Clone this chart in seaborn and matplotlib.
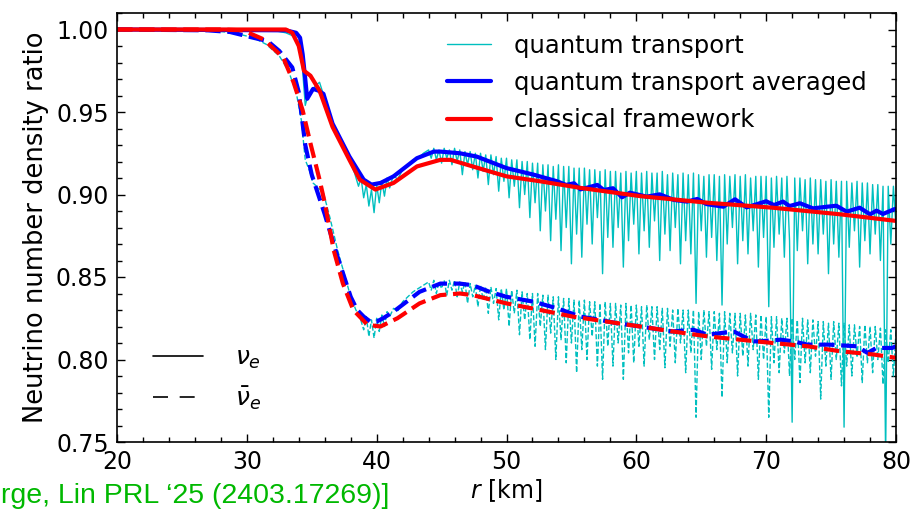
import numpy as np
import pandas as pd
import matplotlib
matplotlib.use("Agg")
import matplotlib.pyplot as plt
from matplotlib.lines import Line2D
from matplotlib.ticker import MultipleLocator, FormatStrFormatter
import seaborn as sns

# ---------------- data ----------------
# classical framework, nu_e (solid red)
red_nue_x = [20, 33.0, 33.5, 34.0, 34.4, 34.9, 35.6, 36.6, 37.9, 38.7, 39.9, 41.3, 43.1,
             44.9, 45.7, 47.4, 50.0, 52.6, 55.7, 60.3, 65.5, 70.5, 75.7, 80]
red_nue_y = [1.0, 1.0, 0.998, 0.990, 0.975, 0.972, 0.963, 0.941, 0.921, 0.909, 0.903, 0.907, 0.917,
             0.921, 0.921, 0.917, 0.911, 0.908, 0.904, 0.899, 0.895, 0.892, 0.888, 0.884]

# quantum transport averaged, nu_e (solid blue)
blue_nue_x = [20, 33.0, 33.8, 34.1, 34.3, 34.5, 34.65, 35.1, 35.5, 35.9, 36.6, 37.9, 39.0, 39.6,
              40.3, 41.3, 43.1, 44.4, 44.9, 46.4, 47.7, 50.0, 52.1, 53.9,
              54.6, 55.2, 55.7, 57.0, 57.5, 58.2, 58.9, 59.5, 60.8, 61.8, 62.9, 63.9, 64.7, 65.4,
              66.7, 67.6, 68.5, 70.0, 70.6, 71.3, 71.8, 72.6, 73.6, 74.7, 75.4, 76.2, 77.2, 78.0,
              78.5, 79.0, 79.9]
blue_nue_y = [1.0, 0.9995, 0.998, 0.995, 0.985, 0.970, 0.958, 0.964, 0.963, 0.961, 0.943, 0.923, 0.909, 0.906,
              0.907, 0.911, 0.922, 0.926, 0.926, 0.925, 0.923, 0.916, 0.912, 0.908,
              0.9058, 0.9068, 0.9031, 0.9058, 0.9027, 0.9038, 0.8983, 0.9011, 0.8987, 0.9001, 0.8967, 0.8957, 0.8973, 0.8942,
              0.8926, 0.8971, 0.8922, 0.8959, 0.8936, 0.8957, 0.8930, 0.8947, 0.8916, 0.8926, 0.8932, 0.8896, 0.8920, 0.8880,
              0.8902, 0.8882, 0.8912]

# classical framework, anti nu_e (dashed red)
red_anue_x = [20, 28, 29.7, 31.3, 32.8, 33.6, 34.3, 34.9, 35.6, 36.0, 36.7, 37.4, 38.2, 39.3, 40.3,
              41.6, 43.3, 44.9, 46.4, 47.4, 50.0, 52.6, 55.1, 57.7, 60.3, 62.8, 65.5, 68.0, 70.5,
              73.2, 75.7, 78.3, 80]
red_anue_y = [1.0, 1.0, 0.9995, 0.994, 0.983, 0.968, 0.951, 0.931, 0.909, 0.895, 0.866, 0.846, 0.830, 0.821, 0.820,
              0.825, 0.834, 0.839, 0.840, 0.839, 0.834, 0.830, 0.826, 0.823, 0.820, 0.817, 0.814, 0.812, 0.810,
              0.808, 0.805, 0.803, 0.801]

# quantum transport averaged, anti nu_e (dashed blue)
blue_anue_x = [20, 27, 28.7, 30.5, 31.6, 32.5, 33.5, 34.0, 34.5, 35.0, 35.5, 36.0, 36.5, 37.0, 37.5,
               38.0, 38.5, 39.0, 39.5, 40.0, 40.5, 41.3, 42.3, 43.3, 44.9, 46.4, 47.4, 48.7, 50.0,
               52.1, 53.9, 55.7, 57.2, 58.5, 60.3, 62.8, 64.4, 65.5, 67.5, 69.0, 69.5, 71.1, 72.1,
               73.2, 74.9, 77.0, 77.8, 78.5, 79.7, 80]
blue_anue_y = [1.0, 0.9995, 0.9985, 0.995, 0.993, 0.987, 0.977, 0.962, 0.930, 0.912, 0.900, 0.888, 0.875, 0.862, 0.850,
               0.838, 0.830, 0.826, 0.823, 0.823, 0.825, 0.829, 0.835, 0.841, 0.846, 0.846, 0.845, 0.841, 0.838,
               0.835, 0.831, 0.826, 0.824, 0.822, 0.820, 0.817, 0.818, 0.815, 0.817, 0.811, 0.811, 0.812, 0.811,
               0.809, 0.809, 0.808, 0.804, 0.807, 0.807, 0.808]

# quantum transport (thin cyan), nu_e : early part
cyan_nue_early_x = [20, 30, 32, 33, 33.6, 34.0, 34.3, 34.5, 34.7, 35.0, 35.3, 35.6, 36.0, 36.6, 37.2,
                    37.9, 38.3, 38.6, 38.8, 39.0, 39.2, 39.4, 39.6, 39.8, 40.0, 40.2, 40.4, 40.6,
                    40.8, 41.0, 41.3, 41.6, 42.0, 42.4, 42.8, 43.2, 43.6]
cyan_nue_early_y = [1.0, 1.0, 0.9995, 0.998, 0.996, 0.992, 0.975, 0.954, 0.960, 0.963, 0.966, 0.968, 0.958, 0.943, 0.932,
                    0.921, 0.913, 0.905, 0.910, 0.898, 0.906, 0.893, 0.903, 0.889, 0.906, 0.895, 0.908, 0.899,
                    0.910, 0.904, 0.912, 0.909, 0.915, 0.918, 0.921, 0.922, 0.925]
# quantum transport (thin cyan), nu_e : oscillating part, samples every 0.2 km from 44 to 80
cyan_nue_osc_y = [
    0.927, 0.922, 0.928, 0.921, 0.927, 0.919, 0.928, 0.922, 0.927, 0.918,
    0.928, 0.920, 0.927, 0.912, 0.926, 0.918, 0.926, 0.915, 0.925, 0.910,
    0.925, 0.914, 0.924, 0.906, 0.924, 0.912, 0.923, 0.902, 0.922, 0.908,
    0.922, 0.898, 0.921, 0.905, 0.921, 0.892, 0.920, 0.900, 0.920, 0.886,
    0.919, 0.895, 0.919, 0.878, 0.918, 0.890, 0.918, 0.872, 0.917, 0.885,
    0.918, 0.866, 0.917, 0.880, 0.917, 0.858, 0.916, 0.876, 0.916, 0.862,
    0.916, 0.882, 0.915, 0.870, 0.915, 0.886, 0.914, 0.852, 0.915, 0.874,
    0.914, 0.868, 0.914, 0.880, 0.913, 0.856, 0.914, 0.872, 0.913, 0.882,
    0.914, 0.864, 0.913, 0.878, 0.914, 0.868, 0.913, 0.884, 0.913, 0.860,
    0.914, 0.876, 0.912, 0.866, 0.913, 0.880, 0.912, 0.858, 0.913, 0.872,
    0.912, 0.864, 0.913, 0.834, 0.912, 0.878, 0.911, 0.862, 0.912, 0.874,
    0.912, 0.860, 0.911, 0.833, 0.912, 0.870, 0.911, 0.880, 0.912, 0.858,
    0.911, 0.872, 0.912, 0.864, 0.910, 0.878, 0.911, 0.856, 0.911, 0.874,
    0.911, 0.832, 0.910, 0.868, 0.911, 0.876, 0.910, 0.862, 0.911, 0.872,
    0.762, 0.910, 0.866, 0.910, 0.878, 0.909, 0.858, 0.910, 0.870, 0.909,
    0.864, 0.909, 0.876, 0.908, 0.852, 0.909, 0.870, 0.908, 0.862, 0.908,
    0.759, 0.908, 0.868, 0.907, 0.878, 0.908, 0.856, 0.907, 0.872, 0.907,
    0.864, 0.906, 0.876, 0.906, 0.860, 0.905, 0.740, 0.905, 0.870, 0.905,
    0.880]

# quantum transport (thin cyan), anti nu_e : early part
cyan_anue_early_x = [20, 27, 29, 30.5, 31.5, 32.5, 33.2, 33.8, 34.2, 34.5, 34.8, 35.1, 35.5, 35.9, 36.4,
                     37.0, 37.5, 38.0, 38.4, 38.7, 39.0, 39.2, 39.4, 39.6, 39.8, 40.0, 40.2, 40.4,
                     40.6, 40.8, 41.0, 41.3, 41.6, 42.0, 42.4, 42.8, 43.2, 43.6]
cyan_anue_early_y = [1.0, 0.9995, 0.998, 0.995, 0.991, 0.984, 0.975, 0.962, 0.945, 0.921, 0.915, 0.907, 0.904, 0.901, 0.886,
                     0.866, 0.852, 0.838, 0.830, 0.826, 0.818, 0.826, 0.814, 0.824, 0.813, 0.825, 0.817, 0.827,
                     0.820, 0.829, 0.826, 0.831, 0.829, 0.835, 0.838, 0.841, 0.843, 0.845]
cyan_anue_osc_y = [
    0.847, 0.842, 0.848, 0.840, 0.847, 0.843, 0.848, 0.839, 0.848, 0.842,
    0.848, 0.838, 0.847, 0.841, 0.847, 0.834, 0.846, 0.838, 0.845, 0.832,
    0.845, 0.836, 0.844, 0.828, 0.844, 0.834, 0.843, 0.824, 0.843, 0.830,
    0.843, 0.820, 0.842, 0.828, 0.842, 0.815, 0.841, 0.824, 0.840, 0.812,
    0.840, 0.808, 0.840, 0.820, 0.839, 0.806, 0.839, 0.816, 0.838, 0.800,
    0.838, 0.812, 0.837, 0.798, 0.837, 0.810, 0.836, 0.792, 0.836, 0.806,
    0.836, 0.800, 0.835, 0.814, 0.835, 0.796, 0.834, 0.788, 0.835, 0.808,
    0.834, 0.796, 0.834, 0.810, 0.833, 0.788, 0.834, 0.804, 0.833, 0.798,
    0.833, 0.808, 0.832, 0.796, 0.833, 0.812, 0.832, 0.800, 0.832, 0.806,
    0.831, 0.795, 0.831, 0.808, 0.830, 0.798, 0.831, 0.810, 0.830, 0.792,
    0.830, 0.804, 0.830, 0.765, 0.829, 0.800, 0.830, 0.808, 0.829, 0.794,
    0.829, 0.806, 0.828, 0.777, 0.829, 0.798, 0.828, 0.804, 0.828, 0.790,
    0.828, 0.802, 0.827, 0.796, 0.828, 0.806, 0.827, 0.788, 0.827, 0.800,
    0.826, 0.765, 0.826, 0.798, 0.826, 0.792, 0.825, 0.804, 0.825, 0.790,
    0.825, 0.800, 0.824, 0.786, 0.825, 0.798, 0.824, 0.792, 0.824, 0.802,
    0.823, 0.776, 0.823, 0.796, 0.822, 0.788, 0.823, 0.800, 0.822, 0.784,
    0.822, 0.796, 0.821, 0.790, 0.821, 0.802, 0.820, 0.786, 0.821, 0.798,
    0.820, 0.792, 0.820, 0.800, 0.819, 0.785, 0.818, 0.798, 0.818, 0.790,
    0.817]

osc_x_start, osc_x_stop, osc_x_step = 44.0, 80.0, 0.2

legend_labels = ["quantum transport", "quantum transport averaged", "classical framework"]
flavour_labels = [r"$\nu_e$", r"$\bar{\nu}_e$"]
xlabel = r"$r$ [km]"
ylabel = "Neutrino number density ratio"
credit = "rge, Lin PRL \u201825 (2403.17269)]"

# ---------------- plotting ----------------
sns.set_style("ticks")
plt.rcParams["font.family"] = ["DejaVu Sans"]
plt.rcParams["mathtext.fontset"] = "dejavusans"
plt.rcParams["text.color"] = "black"
plt.rcParams["axes.labelcolor"] = "black"
plt.rcParams["xtick.color"] = "black"
plt.rcParams["ytick.color"] = "black"

osc_x = np.round(np.arange(osc_x_start, osc_x_stop + 1e-6, osc_x_step), 1)
cyan_nue_x = list(cyan_nue_early_x) + list(osc_x)
cyan_nue_y = list(cyan_nue_early_y) + list(cyan_nue_osc_y)
cyan_anue_x = list(cyan_anue_early_x) + list(osc_x)
cyan_anue_y = list(cyan_anue_early_y) + list(cyan_anue_osc_y)

fig = plt.figure(figsize=(9.14, 5.09), dpi=100)
ax = fig.add_axes([117 / 914, 67 / 509, 779 / 914, 429 / 509])

CY, BL, RD = (0.0, 0.75, 0.75), (0.0, 0.0, 1.0), (1.0, 0.0, 0.0)

def draw(x, y, color, lw, ls):
    df = pd.DataFrame({"x": x, "y": y})
    sns.lineplot(data=df, x="x", y="y", ax=ax, color=color, linewidth=lw,
                 linestyle=ls, sort=False, estimator=None, legend=False)

draw(cyan_anue_x, cyan_anue_y, CY, 1.0, "--")
draw(cyan_nue_x, cyan_nue_y, CY, 1.0, "-")
draw(blue_anue_x, blue_anue_y, BL, 3.0, "--")
draw(blue_nue_x, blue_nue_y, BL, 3.0, "-")
draw(red_anue_x, red_anue_y, RD, 3.0, "--")
draw(red_nue_x, red_nue_y, RD, 3.0, "-")

ax.set_xlim(20, 80)
ax.set_ylim(0.75, 1.01)
ax.xaxis.set_major_locator(MultipleLocator(10))
ax.xaxis.set_minor_locator(MultipleLocator(2))
ax.yaxis.set_major_locator(MultipleLocator(0.05))
ax.yaxis.set_minor_locator(MultipleLocator(0.01))
ax.yaxis.set_major_formatter(FormatStrFormatter("%.2f"))
ax.tick_params(which="both", direction="in", top=True, right=True, width=1.0, colors="black")
ax.tick_params(which="major", length=6, labelsize=17, pad=6)
ax.tick_params(which="minor", length=3.5)
for s in ax.spines.values():
    s.set_linewidth(1.2)
    s.set_color("black")

ax.set_xlabel(xlabel, fontsize=17, labelpad=2)
ax.set_ylabel(ylabel, fontsize=18.5, labelpad=5)

h1 = [Line2D([], [], color=CY, lw=1.0),
      Line2D([], [], color=BL, lw=3.0),
      Line2D([], [], color=RD, lw=3.0)]
leg1 = ax.legend(h1, legend_labels, loc="upper left", bbox_to_anchor=(0.424, 0.952),
                 frameon=False, fontsize=17.5, handlelength=1.8, handletextpad=0.95,
                 labelspacing=0.55, borderpad=0, borderaxespad=0)
ax.add_artist(leg1)

h2 = [Line2D([], [], color="black", lw=1.2, ls="-"),
      Line2D([], [], color="black", lw=1.2, ls=(0, (9, 7)))]
ax.legend(h2, flavour_labels, loc="lower left", bbox_to_anchor=(0.046, 0.07),
          frameon=False, fontsize=18, handlelength=2.0, handletextpad=1.3,
          labelspacing=0.55, borderpad=0, borderaxespad=0)

fig.text(0.001, 6 / 509, credit, color=(0.0, 0.72, 0.0), fontsize=20.5,
         family=["Liberation Sans", "DejaVu Sans"], ha="left", va="baseline")

fig.savefig("out.png", dpi=100)
